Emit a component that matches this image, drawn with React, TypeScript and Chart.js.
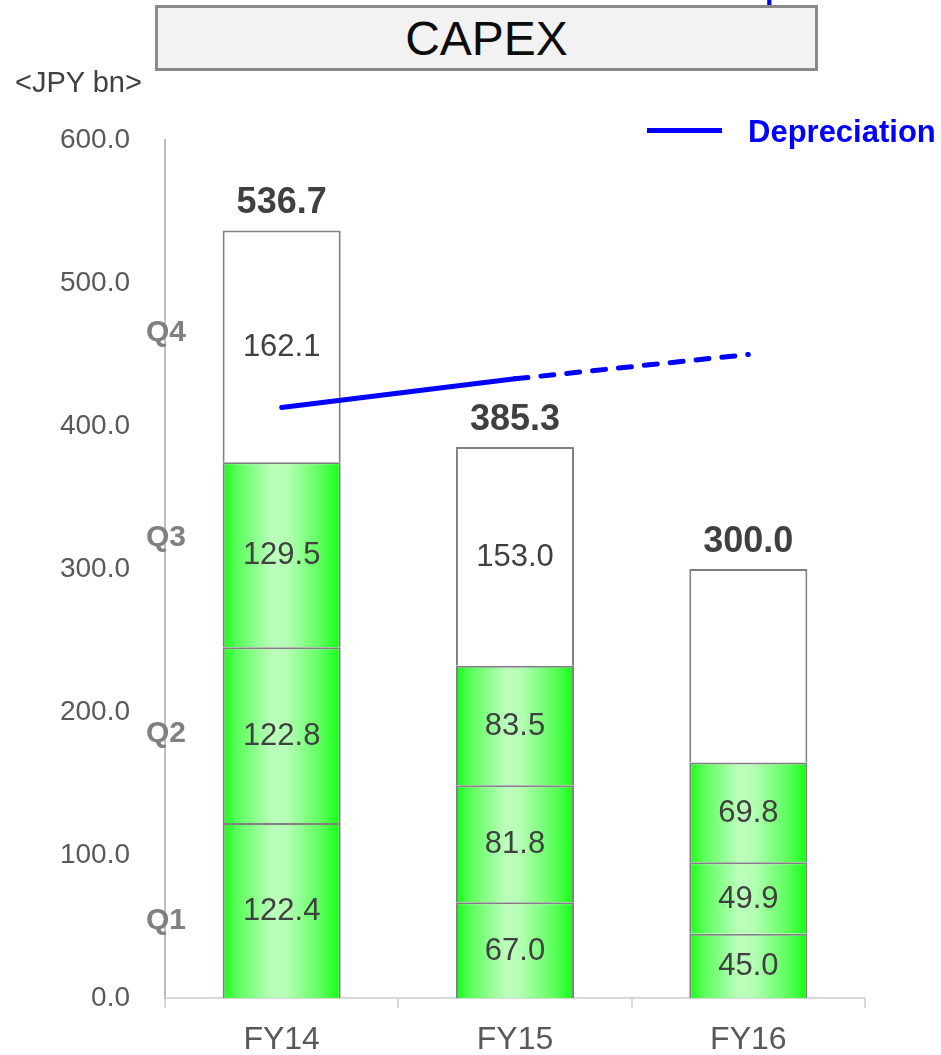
import React, { useEffect, useRef } from "react";
import { Chart, registerables } from "chart.js";

Chart.register(...registerables);

const categories = ["FY14", "FY15", "FY16"];
const q1Values = [122.4, 67.0, 45.0];
const q2Values = [122.8, 81.8, 49.9];
const q3Values = [129.5, 83.5, 69.8];
const q4Values = [162.1, 153.0, 135.3];
const totals = [536.7, 385.3, 300.0];
const depreciation = [413, 433, 450];
const yTicks = [0, 100, 200, 300, 400, 500, 600];
const quarterLabels = ["Q1", "Q2", "Q3", "Q4"];
const quarterLabelValues = [54, 185, 322, 465];

const FONT = '"Liberation Sans", Arial, Helvetica, sans-serif';
const BAR_PCT = 0.506;

const greenFill = (ctx: any) => {
  const chart = ctx.chart;
  const xs = chart.scales && chart.scales.x;
  if (!chart.chartArea || !xs) return "#33ff33";
  const cx = xs.getPixelForValue(ctx.dataIndex);
  const half = ((xs.right - xs.left) / categories.length) * BAR_PCT / 2;
  const g = chart.ctx.createLinearGradient(cx - half, 0, cx + half, 0);
  g.addColorStop(0, "#14ff14");
  g.addColorStop(0.12, "#5aff5a");
  g.addColorStop(0.42, "#bcffbc");
  g.addColorStop(0.55, "#b4ffb4");
  g.addColorStop(0.85, "#55ff55");
  g.addColorStop(1, "#10ff10");
  return g;
};

const labelPlugin = {
  id: "capexLabels",
  afterDraw(chart: any) {
    const ctx = chart.ctx;
    const ys = chart.scales.y;
    ctx.save();
    ctx.font = `31px ${FONT}`;
    ctx.fillStyle = "#404040";
    ctx.textAlign = "center";
    ctx.textBaseline = "middle";
    for (let i = 0; i < 4; i++) {
      const meta = chart.getDatasetMeta(i);
      const vals = chart.data.datasets[i].data as number[];
      meta.data.forEach((el: any, j: number) => {
        if (i === 3 && j === 2) return;
        const y = (el.y + el.base) / 2;
        ctx.fillText(vals[j].toFixed(1), el.x, y + 1);
      });
    }
    ctx.font = `bold 36px ${FONT}`;
    const meta0 = chart.getDatasetMeta(0);
    totals.forEach((t, j) => {
      const x = meta0.data[j].x;
      const y = ys.getPixelForValue(t) - 27;
      ctx.fillText(t.toFixed(1), x, y);
    });
    ctx.font = `bold 30px ${FONT}`;
    ctx.fillStyle = "#808080";
    quarterLabels.forEach((q, k) => {
      ctx.fillText(q, 166, ys.getPixelForValue(quarterLabelValues[k]));
    });
    ctx.restore();
  },
};

export default function App() {
  const ref = useRef<HTMLCanvasElement>(null);

  useEffect(() => {
    document.body.style.margin = "0";
    const barBase = {
      type: "bar" as const,
      borderColor: "#808080",
      borderWidth: 2,
      borderSkipped: "start" as const,
      barPercentage: BAR_PCT,
      categoryPercentage: 1,
      order: 1,
      stack: "capex",
    };
    const chart = new Chart(ref.current!, {
      type: "bar",
      data: {
        labels: categories,
        datasets: [
          { ...barBase, label: "Q1", data: q1Values, backgroundColor: greenFill },
          { ...barBase, label: "Q2", data: q2Values, backgroundColor: greenFill },
          { ...barBase, label: "Q3", data: q3Values, backgroundColor: greenFill },
          { ...barBase, label: "Q4", data: q4Values, backgroundColor: "#ffffff" },
          {
            type: "line",
            label: "Depreciation",
            data: depreciation,
            borderColor: "#0000ff",
            borderWidth: 5,
            borderCapStyle: "round",
            pointRadius: 0,
            fill: false,
            tension: 0,
            order: 0,
            stack: "dep",
            segment: {
              borderDash: (c: any) => (c.p0DataIndex >= 1 ? [13, 13] : undefined),
            },
          } as any,
        ],
      },
      options: {
        responsive: false,
        animation: false,
        devicePixelRatio: 1,
        layout: { padding: { left: 0, right: 76, top: 140, bottom: 0 } },
        plugins: {
          legend: { display: false },
          tooltip: { enabled: false },
          title: { display: false },
        },
        scales: {
          x: {
            stacked: true,
            offset: true,
            grid: {
              display: true,
              drawOnChartArea: false,
              drawTicks: true,
              tickLength: 10,
              color: "#d9d9d9",
              lineWidth: 2,
              offset: true,
            },
            border: { display: true, color: "#d9d9d9", width: 2 },
            ticks: {
              color: "#595959",
              font: { family: FONT, size: 32 },
              padding: 13,
            },
            afterFit: (s: any) => {
              s.height = 57;
            },
          },
          y: {
            stacked: true,
            min: 0,
            max: 600,
            grid: { display: false, drawTicks: false },
            border: { display: true, color: "#bfbfbf", width: 2 },
            afterBuildTicks: (s: any) => {
              s.ticks = yTicks.map((v) => ({ value: v }));
            },
            ticks: {
              color: "#595959",
              font: { family: FONT, size: 28 },
              padding: 35,
              callback: (v: any) => Number(v).toFixed(1),
            },
            afterFit: (s: any) => {
              s.width = 165;
            },
          },
        },
      },
      plugins: [labelPlugin],
    });
    return () => chart.destroy();
  }, []);

  return (
    <div
      style={{
        position: "absolute",
        left: 0,
        top: 0,
        width: 941,
        height: 1055,
        overflow: "hidden",
        fontFamily: FONT,
        background: "#ffffff",
      }}
    >
      <canvas ref={ref} width={941} height={1055} style={{ position: "absolute", left: 0, top: 0 }} />
      <div
        style={{
          position: "absolute",
          left: 765,
          top: -28,
          fontSize: 31,
          lineHeight: "31px",
          fontWeight: "bold",
          color: "#0000ff",
        }}
      >
        p
      </div>
      <div
        style={{
          position: "absolute",
          left: 155,
          top: 5,
          width: 663,
          height: 66,
          boxSizing: "border-box",
          border: "3px solid #8a8a8a",
          background: "#f2f2f2",
          display: "flex",
          alignItems: "center",
          justifyContent: "center",
          fontSize: 48,
          color: "#0d0d0d",
        }}
      >
        CAPEX
      </div>
      <div
        style={{
          position: "absolute",
          left: 15,
          top: 68,
          fontSize: 29,
          lineHeight: "29px",
          color: "#404040",
          whiteSpace: "nowrap",
        }}
      >
        {"<JPY bn>"}
      </div>
      <div
        style={{
          position: "absolute",
          left: 647,
          top: 128,
          width: 75,
          height: 5,
          background: "#0000ff",
        }}
      />
      <div
        style={{
          position: "absolute",
          left: 748,
          top: 116,
          fontSize: 31,
          lineHeight: "31px",
          fontWeight: "bold",
          color: "#0000ff",
          whiteSpace: "nowrap",
        }}
      >
        Depreciation
      </div>
    </div>
  );
}
